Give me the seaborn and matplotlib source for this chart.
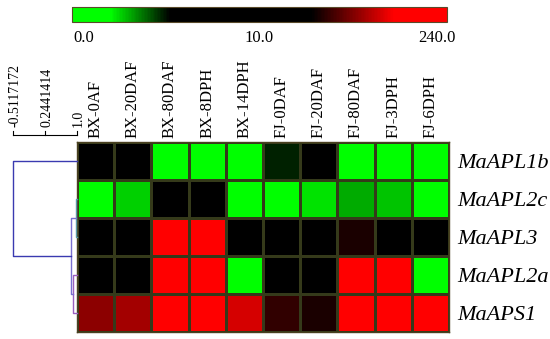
import numpy as np
import pandas as pd
import matplotlib
matplotlib.use("Agg")
import matplotlib.pyplot as plt
from matplotlib.colors import LinearSegmentedColormap, TwoSlopeNorm
import seaborn as sns

samples = ["BX-0AF", "BX-20DAF", "BX-80DAF", "BX-8DPH", "BX-14DPH",
           "FJ-0DAF", "FJ-20DAF", "FJ-80DAF", "FJ-3DPH", "FJ-6DPH"]
genes = ["MaAPL1b", "MaAPL2c", "MaAPL3", "MaAPL2a", "MaAPS1"]

apl1b = [12, 10, 1, 1, 1, 4.8, 9, 1, 1, 1]
apl2c = [1, 2.6, 10, 12, 1, 1.2, 2.4, 3.1, 2.8, 1]
apl3 = [9, 9, 230, 225, 40, 12, 12, 85, 30, 25]
apl2a = [9, 10, 230, 230, 1, 12, 12, 230, 230, 1]
aps1 = [130, 138, 230, 230, 159, 93, 85, 230, 230, 230]

# dendrogram (pearson similarity) merge heights
merge_sim = [0.977, 0.913, 0.851, -0.5117172]
scale_ticks = [-0.5117172, 0.2441414, 1.0]
scale_labels = ["-0.5117172", "0.2441414", "1.0"]
cbar_labels = ["0.0", "10.0", "240.0"]

df = pd.DataFrame([apl1b, apl2c, apl3, apl2a, aps1], index=genes, columns=samples)

cmap = LinearSegmentedColormap.from_list(
    "gbr", [(0, "#00ff00"), (0.10, "#00ff00"), (0.26, "#000000"),
            (0.64, "#000000"), (0.86, "#ff0000"), (1, "#ff0000")])
norm = TwoSlopeNorm(vmin=0, vcenter=10, vmax=240)

W, H = 550, 339
fig = plt.figure(figsize=(5.5, 3.39), dpi=100)
ax = fig.add_axes([77 / W, 1 - 332 / H, 372 / W, 190 / H])
cax = fig.add_axes([72 / W, 1 - 22 / H, 375 / W, 15 / H])
dax = fig.add_axes([13 / W, 1 - 332 / H, 64 / W, 190 / H])

serif = "Liberation Serif"
sns.heatmap(df, ax=ax, cmap=cmap, norm=norm, linewidths=0.8, linecolor="#353a1a",
            cbar_ax=cax, cbar_kws={"orientation": "horizontal"})
for s in ax.spines.values():
    s.set_visible(True)
    s.set_color("#4a4020")
    s.set_linewidth(1.0)

ax.xaxis.tick_top()
ax.set_xticklabels(samples, rotation=90, fontsize=12, family=serif, va="bottom")
ax.tick_params(axis="x", length=0, pad=3)
ax.yaxis.tick_right()
ax.set_yticklabels(genes, rotation=0, fontsize=16, family=serif, style="italic")
ax.tick_params(axis="y", length=0, pad=6)
ax.set_xlabel("")
ax.set_ylabel("")

# colorbar
cb = ax.collections[0].colorbar
cb.set_ticks([])
cb.outline.set_edgecolor("#5a4a2a")
cb.outline.set_linewidth(0.8)
for x, t in zip([0.03, 0.5, 0.973], cbar_labels):
    cax.text(x, -1.05, t, transform=cax.transAxes, ha="center", va="center",
             fontsize=12, family=serif)

# dendrogram
dax.set_xlim(-0.5117172, 1.0)
dax.set_ylim(5, 0)
dax.axis("off")
rows = np.arange(len(genes)) + 0.5
links = [
    (rows[1], 1.0, rows[2], 1.0, merge_sim[0], "#5a9aa8"),
    (rows[3], 1.0, rows[4], 1.0, merge_sim[1], "#9a60c0"),
    ((rows[1] + rows[2]) / 2, merge_sim[0], (rows[3] + rows[4]) / 2, merge_sim[1], merge_sim[2], "#7a70d0"),
    (rows[0], 1.0, (rows[1] + rows[2] + rows[3] + rows[4]) / 4, merge_sim[2], merge_sim[3], "#3a3ab0"),
]
for ya, sa, yb, sb, s, c in links:
    dax.plot([sa, s, s, sb], [ya, ya, yb, yb], color=c, lw=1.0, clip_on=False)

# scale bar
ybar = -0.184
dax.plot([scale_ticks[0], scale_ticks[-1]], [ybar, ybar], color="black", lw=0.8, clip_on=False)
for t, lab in zip(scale_ticks, scale_labels):
    dax.plot([t, t], [ybar, ybar - 0.11], color="black", lw=0.8, clip_on=False)
    dax.text(t + 0.04, ybar - 0.2, lab, rotation=90,
             ha="center", va="bottom", fontsize=10, family=serif, clip_on=False)

fig.savefig("out.png", dpi=100, facecolor="white")
